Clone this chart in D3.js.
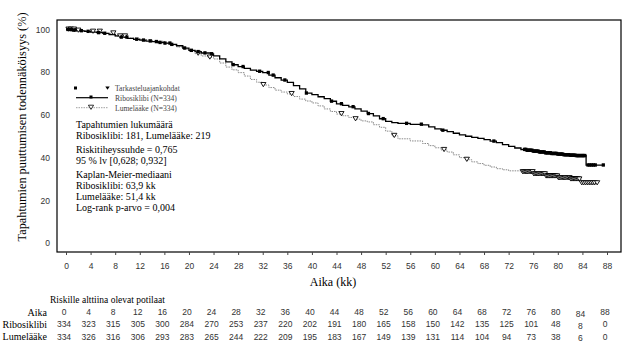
<!DOCTYPE html>
<html><head><meta charset="utf-8">
<script src="https://cdn.jsdelivr.net/npm/d3@7"></script>
<style>body{margin:0;background:#fff}svg{display:block}</style>
</head><body>
<script>
// ---- data ----
const ribT = [0,1,2,3,4,5,6,7,8,9,10,11,12,13,14,15,16,17,18,19,20,21,22,23.5,24,25,26,27,28,29,30,31,32,33,34,35,36,37,38,39,40,41,42,43,44,45,46,47,48,49,50,51,52,53,54,56,58,59,60,61,62,63,64,65,66,67,68,69,70,71,72,73,74,75,76,77,78,79,80,81,82,83,84.6,87.6];
const ribS = [100,99.7,99.4,99.1,98.8,98.5,98.2,97.6,97,96.4,95.8,95.4,95,94.6,94.3,93.9,93.6,93,92.4,91.3,90.2,89.6,89,88.6,87.6,86.2,84.8,83.5,82.6,81.8,81,80.4,79.8,78.6,77.4,76.3,75.2,73.7,72.2,70.2,69.5,68.5,67.6,66.4,65.2,64.5,63.8,62.8,61.8,60.6,59.5,58.2,57,56.4,56,55.6,55.3,54.4,53.5,52.8,52.2,51.4,50.6,50,49.5,49,48.4,47.7,47,46.1,45.3,44.5,43.8,43.4,43,42.6,42.2,41.9,41.6,41.3,41.1,40.9,36.5,36.5];
const plaT = [0,2,4,6,8,10,12,14,16,17,18,19,20,21,22,23,24,25,26,27,28,29,30,31,32,33,34,35,36,37,38,39,40,41,42,43,44,45,46,47,48,49,50,51,52,53,54,56,58,59,60,61,62,63,64,65,66,67,68,69,70,71,72,74,76,78,80,82,83.8,86.5];
const plaS = [100,99.5,99,98.2,96.8,96,95.2,94.5,93.4,92.6,91.8,90.8,89.8,88.7,87.6,86.9,86.2,84.3,82.4,81.1,79.8,78.2,76.6,75.3,74,72.8,71.6,70.7,69.8,68.6,67.4,66.5,65.6,64.2,62.8,61.6,60.4,59.6,58.8,58,57.2,56.7,55.4,54.2,52.4,50.2,48.8,47.8,46.6,45.6,44.6,43.6,42.6,41.3,40,39,38,37.2,36.4,35.6,34.8,34.3,33.8,33.2,32.2,31.2,30.4,29.8,28,28];
const ribCensor = [0.3,0.6,0.9,1.2,1.5,2.5,3.6,5.3,6.3,9,9.9,11.5,12.6,13.7,14.7,15.3,16.1,16.9,17.2,19.3,20.4,21.5,22.6,23.7,27.2,28.8,31.5,32.9,33.7,35.6,39.1,43.2,44.8,46.7,49.2,51.6,55.4,57.8,61.3,69.6,
  74.6,74.8,75,75.2,75.4,75.6,75.8,76,76.2,76.4,76.6,76.8,77,77.2,77.4,77.6,77.8,78,78.2,78.4,78.6,78.8,79,79.2,79.4,79.6,79.8,80,80.2,80.4,80.6,80.8,81,81.2,81.4,81.6,81.8,82,82.2,82.4,82.6,82.8,83,83.2,83.4,83.6,83.8,84,84.2,84.4,84.9,85.2,85.5,85.8,86.1,87.4];
const plaCensor = [0.4,0.8,1.3,2,4.4,5.5,7.7,8.8,9.6,21.5,23.4,32.1,36.7,44.8,47.1,53.4,61.5,65.2,
  74.3,74.5,74.7,74.9,75.1,75.3,75.5,75.7,75.9,76.1,76.3,76.5,76.7,76.9,77.1,77.3,77.5,77.7,77.9,78.1,78.3,78.5,78.7,78.9,79.1,79.3,79.5,79.7,79.9,80.1,80.3,80.5,80.7,80.9,81.1,81.3,81.5,81.7,81.9,82.1,82.3,82.5,82.7,82.9,83.1,83.3,83.5,
  83.9,84.2,84.5,84.8,85.1,85.4,85.7,86,86.4];
const xTicks = [0,4,8,12,16,20,24,28,32,36,40,44,48,52,56,60,64,68,72,76,80,84,88];
const yTicks = [0,20,40,60,80,100];
const riskTimes = xTicks;
const riskRib = [334,323,315,305,300,284,270,253,237,220,202,191,180,165,158,150,142,135,125,101,48,8,0];
const riskPla = [334,326,316,306,293,283,265,244,222,209,195,183,167,149,139,131,114,104,94,73,38,6,0];
const legendLabels = ["Tarkasteluajankohdat","Ribosiklibi  (N=334)","Lumelääke (N=334)"];
const statsLines = [
  ["Tapahtumien lukumäärä", "Ribosiklibi: 181, Lumelääke: 219"],
  ["Riskitiheyssuhde = 0,765", "95 % lv [0,628; 0,932]"],
  ["Kaplan-Meier-mediaani", "Ribosiklibi: 63,9 kk", "Lumelääke: 51,4 kk", "Log-rank p-arvo = 0,004"]
];

// ---- drawing ----
const W = 637, H = 355;
const serif = "'Liberation Serif','Times New Roman',serif";
const sans = "'Liberation Sans',Arial,sans-serif";
const svg = d3.select("body").append("svg").attr("width", W).attr("height", H);
const x = d3.scaleLinear().domain([0, 88]).range([66, 607]);
const y = d3.scaleLinear().domain([0, 100]).range([243, 29.5]);
const L = 57, R = 621, T = 20, B = 252;

// frame
svg.append("rect").attr("x", L).attr("y", T).attr("width", R - L).attr("height", B - T)
  .attr("fill", "none").attr("stroke", "#000").attr("stroke-width", 1.2);

// x axis ticks
const xa = svg.append("g").attr("transform", `translate(0,${B})`)
  .call(d3.axisBottom(x).tickValues(xTicks).tickSize(3).tickPadding(8).tickFormat(d3.format("d")));
xa.select(".domain").remove();
xa.selectAll("line").attr("stroke", "#444");
xa.selectAll("text").attr("font-family", sans).attr("font-size", 8.5).attr("fill", "#333");

// y axis labels
const ya = svg.append("g").attr("transform", `translate(${L},0)`)
  .call(d3.axisLeft(y).tickValues(yTicks).tickSize(0).tickPadding(7));
ya.select(".domain").remove();
ya.selectAll("text").attr("font-family", sans).attr("font-size", 8.5).attr("fill", "#333");

// axis titles
svg.append("text").attr("transform", "translate(22,127) rotate(-90)")
  .attr("text-anchor", "middle").attr("dominant-baseline", "central")
  .attr("font-family", serif).attr("font-size", 12.3).text("Tapahtumien puuttumisen todennäköisyys (%)");
svg.append("text").attr("x", 333).attr("y", 286).attr("text-anchor", "middle")
  .attr("font-family", serif).attr("font-size", 12).text("Aika (kk)");

// curves
const line = d3.line().curve(d3.curveStepAfter).x(d => x(d[0])).y(d => y(d[1]));
const plaData = plaT.map((t, i) => [t, plaS[i]]);
const ribData = ribT.map((t, i) => [t, ribS[i]]);
svg.append("path").attr("d", line(plaData)).attr("fill", "none")
  .attr("stroke", "#8a8a8a").attr("stroke-width", 1).attr("stroke-dasharray", "1.5,1");
svg.append("path").attr("d", line(ribData)).attr("fill", "none")
  .attr("stroke", "#000").attr("stroke-width", 1.3);

function stepVal(ts, ss, t) { const i = Math.max(0, d3.bisectRight(ts, t) - 1); return ss[i]; }
const tri = "M-2.6,-2 L2.6,-2 L0,2.2 Z";
svg.append("g").selectAll("path").data(plaCensor).join("path")
  .attr("d", tri).attr("transform", t => `translate(${x(t)},${y(stepVal(plaT, plaS, t)) - 0.5})`)
  .attr("fill", "#fff").attr("stroke", "#000").attr("stroke-width", 0.9);
svg.append("g").selectAll("rect").data(ribCensor).join("rect")
  .attr("x", t => x(t) - 1.6).attr("y", t => y(stepVal(ribT, ribS, t)) - 1.8)
  .attr("width", 3.2).attr("height", 3.4).attr("fill", "#000");

// legend
const lg = svg.append("g").attr("font-family", serif).attr("font-size", 7.6).attr("fill", "#444");
lg.append("rect").attr("x", 74).attr("y", 86.5).attr("width", 3).attr("height", 3).attr("fill", "#000");
lg.append("path").attr("d", "M-2.2,-1.6 L2.2,-1.6 L0,1.8 Z").attr("transform", "translate(107.5,88)").attr("fill", "#000");
lg.append("line").attr("x1", 76).attr("x2", 108).attr("y1", 97.7).attr("y2", 97.7).attr("stroke", "#000").attr("stroke-width", 1.2);
lg.append("rect").attr("x", 89.5).attr("y", 95.5).attr("width", 3).attr("height", 3).attr("fill", "#000");
lg.append("line").attr("x1", 76).attr("x2", 108).attr("y1", 107.7).attr("y2", 107.7).attr("stroke", "#888").attr("stroke-width", 0.8).attr("stroke-dasharray", "1.5,1");
lg.append("path").attr("d", tri).attr("transform", "translate(91,107.2)").attr("fill", "#fff").attr("stroke", "#000").attr("stroke-width", 0.8);
legendLabels.forEach((s, i) => lg.append("text").attr("x", 115).attr("y", 88 + i * 10).attr("dominant-baseline", "central").text(s));

// stats text
const st = svg.append("g").attr("font-family", serif).attr("font-size", 10).attr("fill", "#000");
let yy = 124.5;
statsLines.forEach((grp, gi) => {
  grp.forEach(s => { st.append("text").attr("x", 76).attr("y", yy).attr("dominant-baseline", "central").text(s); yy += 11; });
  yy += 3;
});

// risk table
const tb = svg.append("g");
tb.append("text").attr("x", 50).attr("y", 299.5).attr("dominant-baseline", "central")
  .attr("font-family", serif).attr("font-size", 9.5).text("Riskille alttiina olevat potilaat");
const rows = [["Aika", riskTimes, 312], ["Ribosiklibi", riskRib, 324], ["Lumelääke", riskPla, 336.5]];
rows.forEach(([lab, vals, ry]) => {
  tb.append("text").attr("x", 47).attr("y", ry).attr("text-anchor", "end").attr("dominant-baseline", "central")
    .attr("font-family", serif).attr("font-size", 10).text(lab);
  tb.selectAll(null).data(vals).join("text")
    .attr("x", (v, i) => x(riskTimes[i]) - 2).attr("y", (v, i) => ry + (riskTimes[i] === 84 ? 1.5 : 0))
    .attr("text-anchor", "middle").attr("dominant-baseline", "central")
    .attr("font-family", sans).attr("font-size", 8.5).attr("fill", "#333").text(v => v);
});
</script>
</body></html>
